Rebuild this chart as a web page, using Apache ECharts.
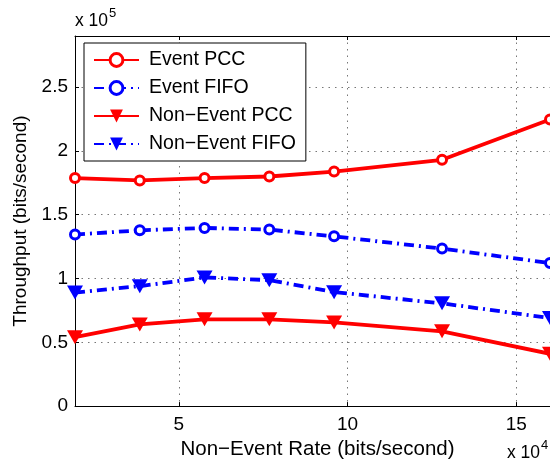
<!DOCTYPE html>
<html>
<head>
<meta charset="utf-8">
<script src="https://cdn.jsdelivr.net/npm/echarts@6/dist/echarts.min.js"></script>
<style>
  html, body { margin: 0; padding: 0; background: #fff; }
  #chart { width: 550px; height: 465px; }
</style>
</head>
<body>
<div id="chart"></div>
<script>
// x: non-event rate in units of 1e4 bits/s, y: throughput in units of 1e5 bits/s
var rates = [1.92, 3.84, 5.76, 7.68, 9.6, 12.8, 16];
var eventPCC = [1.787, 1.768, 1.787, 1.799, 1.838, 1.93, 2.246];
var eventFIFO = [1.344, 1.377, 1.396, 1.383, 1.33, 1.234, 1.121];
var nonEventPCC = [0.54, 0.64, 0.68, 0.68, 0.656, 0.586, 0.41];
var nonEventFIFO = [0.89, 0.94, 1.008, 0.987, 0.893, 0.805, 0.69];
var xTicks = [5, 10, 15];
var yTicks = [0, 0.5, 1, 1.5, 2, 2.5];
var names = ['Event PCC', 'Event FIFO', 'Non\u2212Event PCC', 'Non\u2212Event FIFO'];

var font = 'Liberation Sans, Arial, Helvetica, sans-serif';
var dashDot = [10, 5, 2, 5];

function pairs(ys) {
  return ys.map(function (y, i) { return [rates[i], y]; });
}

function makeSeries(name, ys, color, symbol, dashed) {
  var tri = symbol === 'triangle';
  return {
    name: name,
    type: 'line',
    data: pairs(ys),
    clip: false,
    symbol: tri ? 'triangle' : 'circle',
    symbolSize: tri ? [16, 14] : 9,
    symbolRotate: tri ? 180 : 0,
    showAllSymbol: true,
    lineStyle: { color: color, width: 3.8, type: dashed ? dashDot : 'solid' },
    itemStyle: tri
      ? { color: color, borderColor: color, borderWidth: 0 }
      : { color: '#fff', borderColor: color, borderWidth: 3 }
  };
}

var chart = echarts.init(document.getElementById('chart'));
chart.setOption({
  animation: false,
  textStyle: { fontFamily: font },
  grid: { left: 75, top: 36, width: 479, height: 371, containLabel: false },
  legend: {
    left: 84,
    top: 43,
    orient: 'vertical',
    selectedMode: false,
    data: [
      { name: names[0], itemStyle: { borderWidth: 3 } },
      { name: names[1], itemStyle: { borderWidth: 3 } },
      { name: names[2] },
      { name: names[3] }
    ],
    itemWidth: 45,
    itemHeight: 16,
    itemGap: 8,
    padding: [7, 10, 7, 9],
    backgroundColor: '#fff',
    borderColor: '#000',
    borderWidth: 1,
    textStyle: { fontFamily: font, fontSize: 19.5, color: '#000', padding: [0, 0, 0, 5] }
  },
  xAxis: [{
    type: 'value',
    min: 1.92,
    max: 16,
    name: 'Non\u2212Event Rate (bits/second)',
    nameLocation: 'middle',
    nameGap: 22,
    nameTextStyle: { fontFamily: font, fontSize: 20.5, color: '#000', padding: [0, 0, 0, 10] },
    axisLine: { show: true, onZero: false, lineStyle: { color: '#000', width: 1 } },
    axisTick: { show: true, inside: true, length: 4, customValues: xTicks, lineStyle: { color: '#000' } },
    axisLabel: { customValues: xTicks, fontSize: 19, color: '#000', margin: 9, fontFamily: font },
    splitLine: { show: true, lineStyle: { color: '#777', width: 1, type: [1.5, 5] } }
  }, {
    type: 'value',
    position: 'top',
    min: 1.92,
    max: 16,
    axisLine: { show: true, onZero: false, lineStyle: { color: '#000', width: 1 } },
    axisTick: { show: true, inside: true, length: 4, customValues: xTicks, lineStyle: { color: '#000' } },
    axisLabel: { show: false },
    splitLine: { show: false }
  }],
  yAxis: {
    type: 'value',
    min: 0,
    max: 2.9,
    name: 'Throughput (bits/second)',
    nameLocation: 'middle',
    nameGap: 38,
    nameTextStyle: { fontFamily: font, fontSize: 19, color: '#000' },
    axisLine: { show: true, onZero: false, lineStyle: { color: '#000', width: 1 } },
    axisTick: { show: true, inside: true, length: 4, customValues: yTicks, lineStyle: { color: '#000' } },
    axisLabel: { customValues: yTicks, fontSize: 19, color: '#000', margin: 7, fontFamily: font },
    splitLine: { show: true, lineStyle: { color: '#777', width: 1, type: [1.5, 5] } }
  },
  graphic: [{
    type: 'text',
    left: 75,
    top: 7,
    style: {
      text: '{a|x 10}{b|5}',
      rich: {
        a: { fontFamily: font, fontSize: 17.5, fill: '#000', padding: [8, 0, 0, 0] },
        b: { fontFamily: font, fontSize: 13, fill: '#000', padding: [0, 0, 7, 1] }
      }
    }
  }, {
    type: 'text',
    left: 507,
    top: 439,
    style: {
      text: '{a|x 10}{b|4}',
      rich: {
        a: { fontFamily: font, fontSize: 17.5, fill: '#000', padding: [8, 0, 0, 0] },
        b: { fontFamily: font, fontSize: 13, fill: '#000', padding: [0, 0, 7, 1] }
      }
    }
  }],
  series: [
    makeSeries(names[0], eventPCC, '#ff0000', 'circle', false),
    makeSeries(names[1], eventFIFO, '#0000ff', 'circle', true),
    makeSeries(names[2], nonEventPCC, '#ff0000', 'triangle', false),
    makeSeries(names[3], nonEventFIFO, '#0000ff', 'triangle', true)
  ]
});
</script>
</body>
</html>
